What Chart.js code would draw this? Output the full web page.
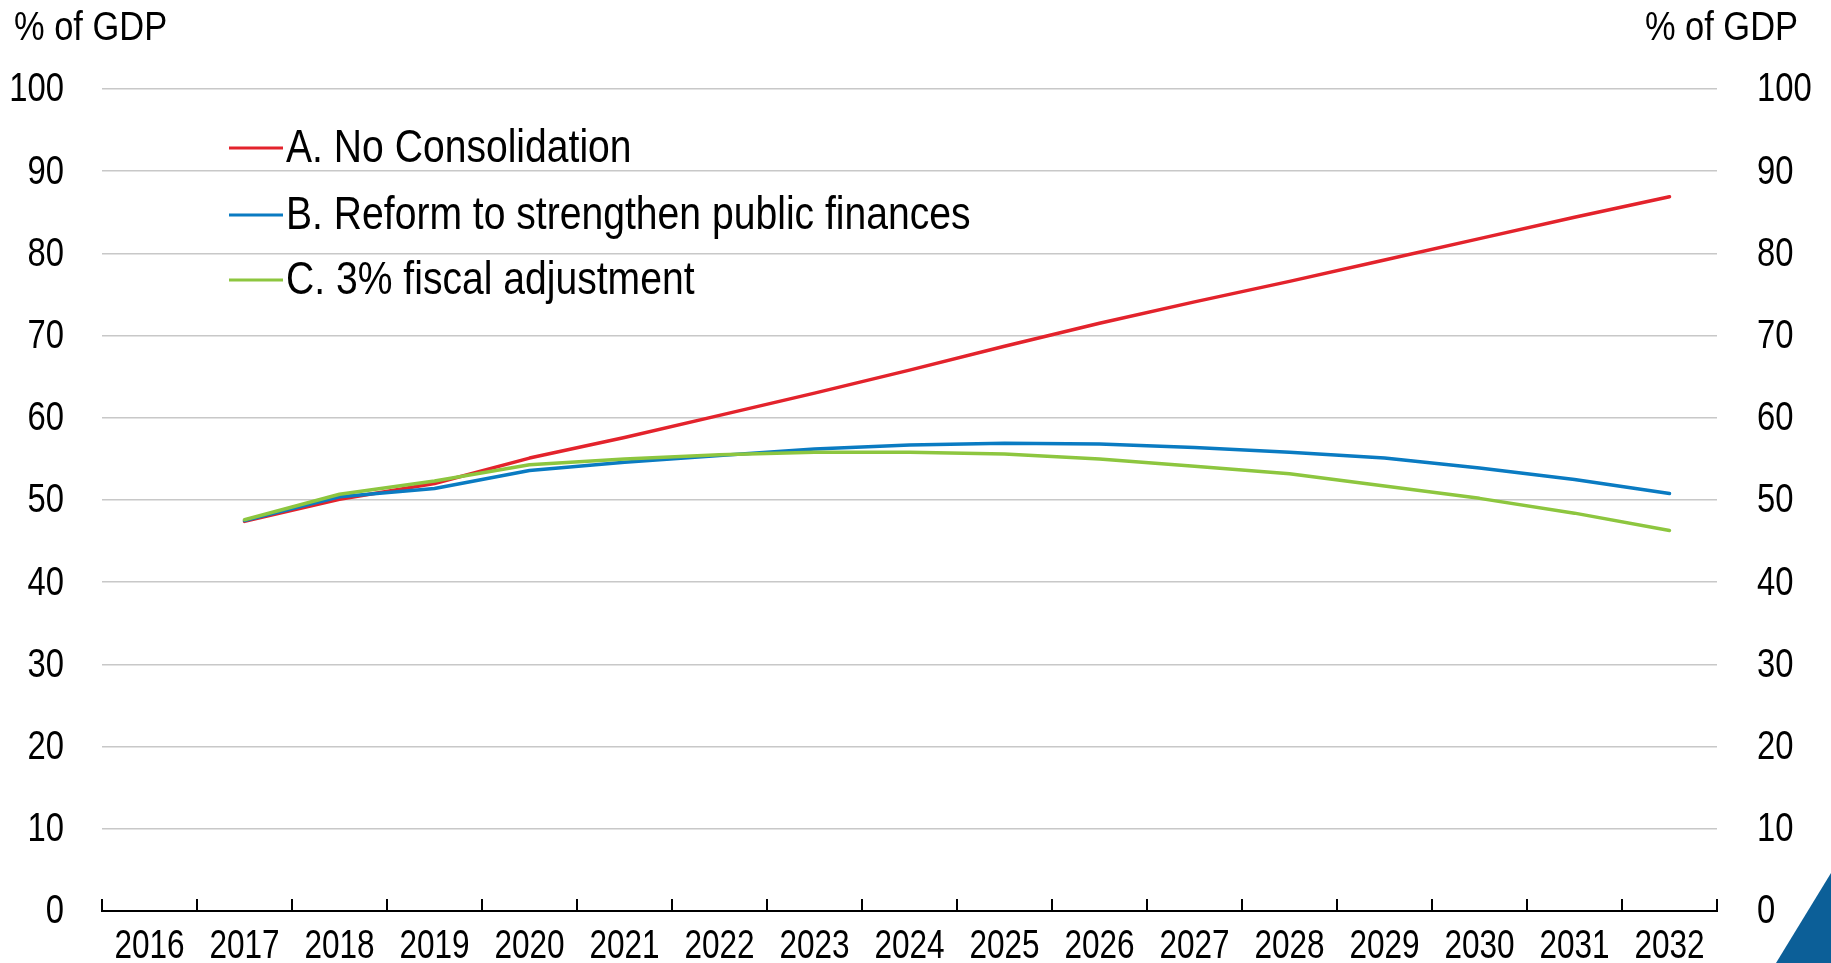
<!DOCTYPE html>
<html>
<head>
<meta charset="utf-8">
<script src="https://cdn.jsdelivr.net/npm/chart.js@4"></script>
<style>
  html, body { margin: 0; padding: 0; background: #ffffff; overflow: hidden; }
  #wrap { width: 1831px; height: 963px; position: relative; }
</style>
</head>
<body>
<div id="wrap"><canvas id="chart"></canvas></div>
<script>
// Public debt projections, % of GDP
const years = ['2016', '2017', '2018', '2019', '2020', '2021', '2022', '2023', '2024',
               '2025', '2026', '2027', '2028', '2029', '2030', '2031', '2032'];

const noConsolidation = [null, 47.4, 50.1, 52.0, 55.1, 57.6, 60.3, 63.0, 65.8,
                         68.7, 71.5, 74.1, 76.6, 79.2, 81.8, 84.4, 86.9];
const reformFinances  = [null, 47.5, 50.4, 51.4, 53.6, 54.6, 55.4, 56.2, 56.7,
                         56.9, 56.8, 56.4, 55.8, 55.1, 53.9, 52.5, 50.8];
const fiscalAdjust    = [null, 47.6, 50.7, 52.3, 54.3, 55.0, 55.5, 55.8, 55.8,
                         55.6, 55.0, 54.1, 53.2, 51.7, 50.2, 48.4, 46.3];

const seriesNames = ['A. No Consolidation', 'B. Reform to strengthen public finances', 'C. 3% fiscal adjustment'];
const unitLabel = '% of GDP';
const yTicks = [0, 10, 20, 30, 40, 50, 60, 70, 80, 90, 100];

const FONT = "'Liberation Sans Narrow', 'Arial Narrow', 'Liberation Sans', Arial, sans-serif";
const RED = '#E3232C', BLUE = '#0A7BC2', GREEN = '#8DC63F';

// Narrow-looking text: the sans face squeezed horizontally
function narrowText(ctx, text, x, y, size, sx, align) {
  ctx.save();
  ctx.translate(x, y);
  ctx.scale(sx, 1);
  ctx.font = size + 'px ' + FONT;
  ctx.textAlign = align;
  ctx.textBaseline = 'middle';
  ctx.fillStyle = '#000';
  ctx.fillText(text, 0, 0);
  ctx.restore();
}

// Axis labels, units, inline legend, upward x tick marks and the corner tab
const decorations = {
  id: 'decorations',
  afterDraw(chart) {
    const ctx = chart.ctx;
    const xs = chart.scales.x;
    const yl = chart.scales.y;
    const yr = chart.scales.y2;
    const area = chart.chartArea;
    ctx.save();

    // x-axis tick marks between categories, pointing up into the plot
    const n = xs.ticks.length;
    const step = (xs.right - xs.left) / n;
    ctx.strokeStyle = '#000';
    ctx.lineWidth = 2;
    ctx.beginPath();
    for (let i = 0; i <= n; i++) {
      const px = Math.round(xs.left + i * step);
      ctx.moveTo(px, area.bottom);
      ctx.lineTo(px, area.bottom - 12);
    }
    ctx.stroke();

    // category labels
    xs.ticks.forEach((t, i) => {
      narrowText(ctx, xs.getLabelForValue(t.value), xs.getPixelForTick(i), area.bottom + 36, 41, 0.77, 'center');
    });

    // value labels on both sides
    yl.ticks.forEach(t => {
      narrowText(ctx, String(t.value), area.left - 38, yl.getPixelForValue(t.value) + 1, 41, 0.8, 'right');
    });
    yr.ticks.forEach(t => {
      narrowText(ctx, String(t.value), area.right + 40, yr.getPixelForValue(t.value) + 1, 41, 0.8, 'left');
    });

    // unit labels above both value axes
    narrowText(ctx, unitLabel, 14, 29, 41, 0.84, 'left');
    narrowText(ctx, unitLabel, 1798, 29, 41, 0.84, 'right');

    // legend inside the plot area
    const rows = [148, 215, 280];
    chart.data.datasets.forEach((ds, i) => {
      const y = rows[i];
      ctx.strokeStyle = ds.borderColor;
      ctx.lineWidth = 3;
      ctx.beginPath();
      ctx.moveTo(229, y);
      ctx.lineTo(283, y);
      ctx.stroke();
      narrowText(ctx, ds.label, 286, y + 1, 46, 0.85, 'left');
    });

    // corner tab
    ctx.fillStyle = '#0C5F98';
    ctx.beginPath();
    ctx.moveTo(1776, 963);
    ctx.lineTo(1831, 963);
    ctx.lineTo(1831, 873);
    ctx.closePath();
    ctx.fill();

    ctx.restore();
  }
};

new Chart(document.getElementById('chart'), {
  type: 'line',
  data: {
    labels: years,
    datasets: [
      { label: seriesNames[0], data: noConsolidation, borderColor: RED, order: 2 },
      { label: seriesNames[1], data: reformFinances, borderColor: BLUE, order: 1 },
      { label: seriesNames[2], data: fiscalAdjust, borderColor: GREEN, order: 0 }
    ].map(d => Object.assign(d, {
      borderWidth: 3.5, pointRadius: 0, pointHoverRadius: 0, tension: 0,
      fill: false, borderCapStyle: 'round', borderJoinStyle: 'round'
    }))
  },
  options: {
    responsive: true,
    maintainAspectRatio: false,
    devicePixelRatio: 1,
    animation: false,
    events: [],
    layout: { padding: { top: 89, left: 0, right: 0, bottom: 0 } },
    plugins: { legend: { display: false }, tooltip: { enabled: false }, title: { display: false } },
    scales: {
      x: {
        type: 'category',
        offset: true,
        grid: { display: false, drawTicks: false },
        border: { display: true, color: '#000', width: 2 },
        ticks: { display: false, autoSkip: false, maxRotation: 0 },
        afterFit(scale) { scale.height = 52; }
      },
      y: {
        position: 'left',
        min: 0, max: 100,
        afterBuildTicks(scale) { scale.ticks = yTicks.map(v => ({ value: v })); },
        grid: {
          drawTicks: false,
          lineWidth: 1.5,
          color: ctx => (ctx.tick && ctx.tick.value === 0) ? 'rgba(0,0,0,0)' : '#C8C8C8'
        },
        border: { display: false },
        ticks: { display: false },
        afterFit(scale) { scale.width = 102; }
      },
      y2: {
        position: 'right',
        min: 0, max: 100,
        afterBuildTicks(scale) { scale.ticks = yTicks.map(v => ({ value: v })); },
        grid: { display: false, drawTicks: false },
        border: { display: false },
        ticks: { display: false },
        afterFit(scale) { scale.width = 114; }
      }
    }
  },
  plugins: [decorations]
});
</script>
</body>
</html>
